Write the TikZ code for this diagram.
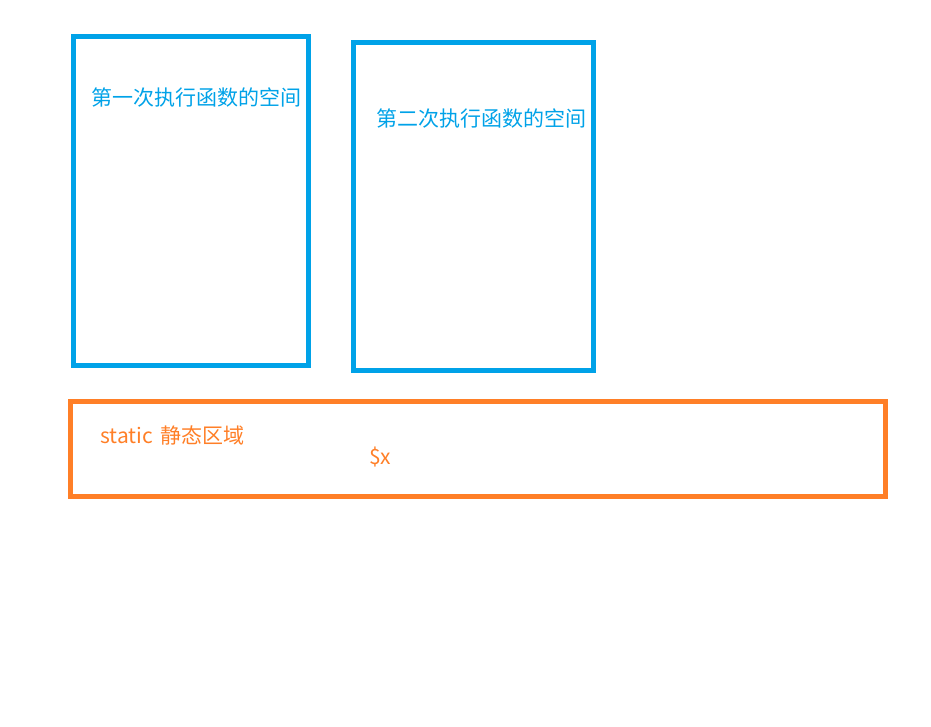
\documentclass[tikz,border=0pt]{standalone}
\usepackage{fontspec}
\setmainfont{Noto Sans CJK SC}
\definecolor{boxblue}{RGB}{0,162,232}
\definecolor{boxorange}{RGB}{255,127,39}
\begin{document}
\begin{tikzpicture}[x=1pt,y=-1pt,
  frame/.style={line width=5pt},
  lbl/.style={anchor=west,inner sep=0pt,text height=0.88em,text depth=0.12em,font=\fontsize{21}{25}\selectfont}]
\useasboundingbox (0,0) rectangle (931,726);
\draw[frame,boxblue] (73.5,36.5) rectangle (308.5,365.5);
\draw[frame,boxblue] (353.5,42.5) rectangle (593.5,370.5);
\draw[frame,boxorange] (70.5,401.5) rectangle (885.5,496.5);
\node[lbl,text=boxblue] (t1) at (91,102) {第一次执行函数的空间};
\node[lbl,text=boxblue] (t2) at (376,123) {第二次执行函数的空间};
\node[lbl,text=boxorange] (t3) at (100,440) {static\hspace{0.15em} 静态区域};
\node[lbl,text=boxorange] (t4) at (369,461) {\$x};
\end{tikzpicture}
\end{document}
